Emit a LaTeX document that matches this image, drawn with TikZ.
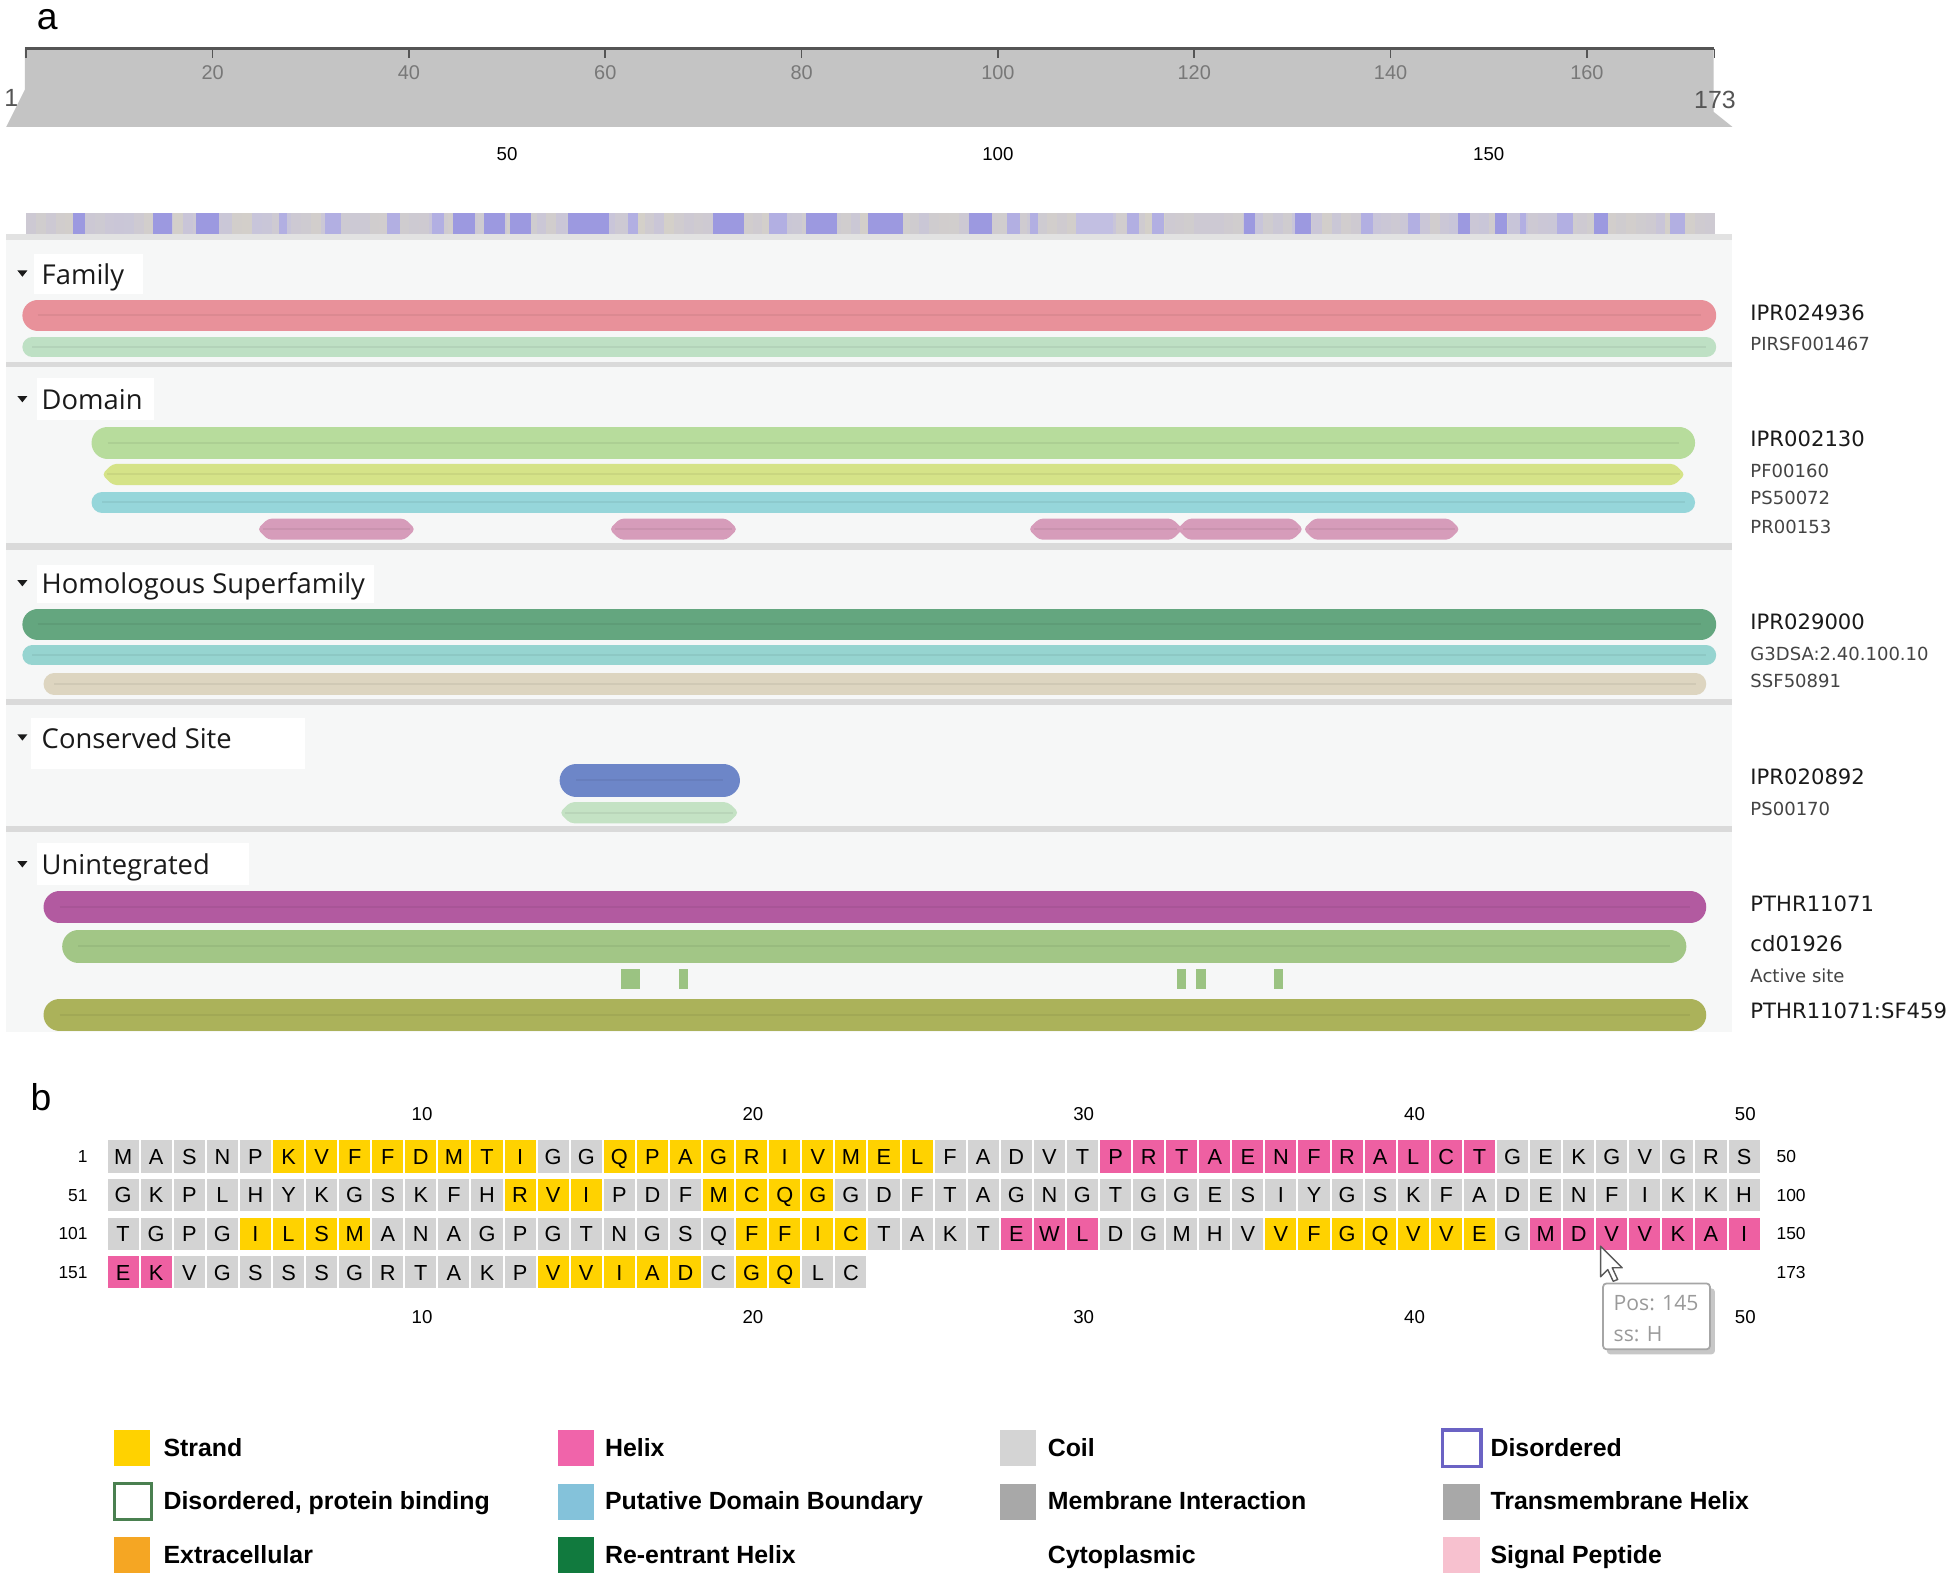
\documentclass[tikz,border=0pt]{standalone}
\usepackage{fontspec}
\setmainfont{Liberation Sans}
\newfontfamily\osans{Open Sans}
\newfontfamily\dvsans{DejaVu Sans}
\newcommand\fsz[1]{\fontsize{\fpeval{#1*0.35566}pt}{\fpeval{#1*0.43}pt}\selectfont}
\definecolor{rulergray}{RGB}{196,196,196}
\definecolor{rulerline}{RGB}{85,85,85}
\definecolor{tickgray}{RGB}{120,120,120}
\definecolor{stripbeige}{RGB}{214,210,198}
\definecolor{striplav}{RGB}{194,191,226}
\definecolor{stripmed}{RGB}{178,175,226}
\definecolor{stripblue}{RGB}{156,153,224}
\definecolor{bandgray}{RGB}{226,226,226}
\definecolor{panelbg}{RGB}{246,247,247}
\definecolor{sepgray}{RGB}{218,218,218}
\definecolor{famred}{RGB}{232,145,154}
\definecolor{famgreen}{RGB}{190,224,196}
\definecolor{domgreen}{RGB}{183,220,156}
\definecolor{domyg}{RGB}{213,227,136}
\definecolor{domcyan}{RGB}{150,214,218}
\definecolor{prpink}{RGB}{214,156,186}
\definecolor{hsgreen}{RGB}{100,166,127}
\definecolor{hscyan}{RGB}{150,212,208}
\definecolor{hsbeige}{RGB}{221,213,192}
\definecolor{csblue}{RGB}{109,134,200}
\definecolor{csgreen}{RGB}{196,226,196}
\definecolor{unmag}{RGB}{178,90,160}
\definecolor{ungreen}{RGB}{162,198,134}
\definecolor{unolive}{RGB}{171,178,90}
\definecolor{activegreen}{RGB}{155,195,130}
\definecolor{cellg}{RGB}{211,211,211}
\definecolor{celly}{RGB}{255,210,0}
\definecolor{cellp}{RGB}{238,96,162}
\definecolor{legpink}{RGB}{240,100,170}
\definecolor{legcoil}{RGB}{212,212,212}
\definecolor{legdis}{RGB}{107,99,196}
\definecolor{legdpb}{RGB}{74,128,80}
\definecolor{legpdb}{RGB}{132,194,218}
\definecolor{leggray}{RGB}{168,168,168}
\definecolor{legorange}{RGB}{245,166,35}
\definecolor{legreent}{RGB}{17,122,62}
\definecolor{legsig}{RGB}{247,193,207}
\definecolor{labdark}{RGB}{26,26,26}
\definecolor{labsoft}{RGB}{68,68,68}
\definecolor{tipgray}{RGB}{154,154,154}
\newcommand\capb[5]{%
  \draw[#5, line width={#4*0.125mm}, line cap=round] ({#1+#4/2},#3) -- ({#2-#4/2},#3);
  \draw[#5!75!black, opacity=0.22, line width=0.6pt] ({#1+#4/2},#3) -- ({#2-#4/2},#3);}
\newcommand\hexb[5]{%
  \fill[#5, rounded corners=0.4mm] (#1,#3) -- ({#1+#4/2},{#3-#4/2}) -- ({#2-#4/2},{#3-#4/2}) -- (#2,#3) -- ({#2-#4/2},{#3+#4/2}) -- ({#1+#4/2},{#3+#4/2}) -- cycle;
  \draw[#5!75!black, opacity=0.22, line width=0.6pt] ({#1+#4/4},#3) -- ({#2-#4/4},#3);}
\begin{document}
\begin{tikzpicture}[x=0.125mm,y=-0.125mm,
  tick/.style={font=\fsz{16}, text=tickgray, anchor=base, inner sep=0pt},
  scl/.style={font=\fsz{15}, text=black, anchor=base, inner sep=0pt},
  seclab/.style={font=\osans\fsz{22}, text=labdark, anchor=base west, inner sep=0pt},
  biglab/.style={font=\dvsans\fsz{17}, text=labdark, anchor=base west, inner sep=0pt},
  smalllab/.style={font=\dvsans\fsz{14.5}, text=labsoft, anchor=base west, inner sep=0pt},
  seq/.style={font=\fsz{17.5}, text=black, anchor=base, inner sep=0pt},
  rown/.style={font=\fsz{14}, text=black, inner sep=0pt},
  leg/.style={font=\bfseries\fsz{20}, text=black, anchor=base west, inner sep=0pt},
  tiptxt/.style={font=\osans\fsz{17}, text=tipgray, anchor=base west, inner sep=0pt},
  labbox/.style={fill=white},
  tri/.style={fill=labdark}]
\useasboundingbox (0,0) rectangle (1568,1279);
\fill[white] (0,0) rectangle (1568,1279);

% ---------- panel a ----------
\node[font=\fsz{30}, anchor=base west, inner sep=0pt] (lbla) at (29,24) {a};

% ruler
\fill[rulergray] (20,39) -- (1378,39) -- (1378,90) -- (1393,102) -- (5,102) -- (20,72) -- cycle;
\draw[rulerline, line width=0.6pt] (20,39) -- (1378,39);
\foreach \p in {1,20,40,60,80,100,120,140,160,173}
  \draw[rulerline, line width=0.5pt] ({21+(\p-1)*7.893},39) -- ++(0,8);
\foreach \p in {20,40,...,160}
  \node[tick] (tk\p) at ({21+(\p-1)*7.893},64) {\p};
\node[font=\fsz{20}, text=rulerline, anchor=base, inner sep=0pt] (rstart) at (9,86) {1};
\node[font=\fsz{20}, text=rulerline, anchor=base, inner sep=0pt] (rend) at (1379,87) {173};
\foreach \p in {50,100,150}
  \node[scl] (sc\p) at ({21+(\p-1)*7.893},129) {\p};

% colour strip
\pgfmathsetseed{11}
\foreach \p in {1,...,172}{
  \pgfmathtruncatemacro\rv{random(10,70)}
  \fill[striplav!\rv!stripbeige] ({21+(\p-1)*7.893},171) rectangle ({21+\p*7.893+0.4},188);
}
\foreach \a/\b/\c in {59/68/stripblue,123/138/stripblue,158/176/stripblue,224/231/stripmed,261/274/stripmed,
  311/322/stripmed,347/357/stripmed,364/382/stripblue,389/406/stripblue,410/427/stripblue,457/490/stripblue,
  505/513/stripmed,573/598/stripblue,618/633/stripmed,648/673/stripblue,698/726/stripblue,779/798/stripblue,
  810/820/stripmed,828/835/stripmed,865/895/striplav,906/916/stripmed,926/936/stripmed,1000/1009/stripblue,
  1041/1054/stripblue,1094/1104/stripmed,1132/1142/stripmed,1172/1182/stripblue,1202/1212/stripblue,
  1222/1227/stripmed,1252/1265/stripmed,1282/1293/stripblue,1343/1355/stripmed}
  \fill[\c] (\a,171) rectangle (\b,188);
\fill[bandgray] (5,188) rectangle (1393,193);

% panels
\fill[panelbg] (5,193) rectangle (1393,830);
\foreach \ya/\yb in {291/295,437/442,562/567,664/669}
  \fill[sepgray] (5,\ya) rectangle (1393,\yb);

% section labels
\fill[labbox] (27,204) rectangle (115,236);
\fill[labbox] (30,304) rectangle (124,338);
\fill[labbox] (30,454) rectangle (301,485);
\fill[labbox] (25,577) rectangle (245,618);
\fill[labbox] (30,678) rectangle (200,712);
\foreach \yc in {220,321,469,593,695}
  \fill[tri] (14,{\yc-2.5}) -- (22,{\yc-2.5}) -- (18,{\yc+2.5}) -- cycle;
\node[seclab] (sfam) at (33,228.5) {Family};
\node[seclab] (sdom) at (33,329.5) {Domain};
\node[seclab] (shom) at (33,477.5) {Homologous Superfamily};
\node[seclab] (scon) at (33,601.5) {Conserved Site};
\node[seclab] (suni) at (33,703.5) {Unintegrated};

% bars
\capb{18}{1380}{253.5}{25}{famred}
\capb{18}{1380}{279}{16}{famgreen}
\capb{73.6}{1363}{356}{26}{domgreen}
\hexb{82}{1355}{381.5}{17}{domyg}
\capb{73.6}{1363}{404}{17}{domcyan}
\hexb{207}{334}{425.5}{17}{prpink}
\hexb{490}{593}{425.5}{17}{prpink}
\hexb{827}{951}{425.5}{17}{prpink}
\hexb{946.6}{1048}{425.5}{17}{prpink}
\hexb{1048}{1174}{425.5}{17}{prpink}
\capb{18}{1380}{502}{25}{hsgreen}
\capb{18}{1380}{527}{16}{hscyan}
\capb{35}{1372}{550}{17}{hsbeige}
\capb{450}{595}{627.5}{27}{csblue}
\hexb{450}{594}{653.5}{17}{csgreen}
\capb{35}{1372}{729.5}{26}{unmag}
\capb{50}{1356}{761}{26}{ungreen}
\foreach \a/\b in {499/515,546/553,946.5/953.5,962/970,1024.5/1032}
  \fill[activegreen] (\a,779) rectangle (\b,795);
\capb{35}{1372}{816}{26}{unolive}

% right labels
\node[biglab] (l1) at (1407,258) {IPR024936};
\node[smalllab] (l2) at (1407,282) {PIRSF001467};
\node[biglab] (l3) at (1407,359) {IPR002130};
\node[smalllab] (l4) at (1407,384) {PF00160};
\node[smalllab] (l5) at (1407,406) {PS50072};
\node[smalllab] (l6) at (1407,429) {PR00153};
\node[biglab] (l7) at (1407,506) {IPR029000};
\node[smalllab] (l8) at (1407,531) {G3DSA:2.40.100.10};
\node[smalllab] (l9) at (1407,553) {SSF50891};
\node[biglab] (l10) at (1407,631) {IPR020892};
\node[smalllab] (l11) at (1407,656) {PS00170};
\node[biglab] (l12) at (1407,733) {PTHR11071};
\node[biglab] (l13) at (1407,765) {cd01926};
\node[smalllab] (l14) at (1407,790) {Active site};
\node[biglab] (l15) at (1407,819) {PTHR11071:SF459};

% ---------- panel b ----------
\node[font=\fsz{30}, anchor=base west, inner sep=0pt] (lblb) at (24,893) {b};
\foreach \n in {10,20,30,40,50}{
  \node[scl] (top\n) at ({100+(\n-1)*26.6},901) {\n};
  \node[scl] (bot\n) at ({100+(\n-1)*26.6},1064) {\n};
}
\foreach \L/\C [count=\i from 0] in {M/g,A/g,S/g,N/g,P/g,K/y,V/y,F/y,F/y,D/y,M/y,T/y,I/y,G/g,G/g,Q/y,P/y,A/y,G/y,R/y,I/y,V/y,M/y,E/y,L/y,F/g,A/g,D/g,V/g,T/g,P/p,R/p,T/p,A/p,E/p,N/p,F/p,R/p,A/p,L/p,C/p,T/p,G/g,E/g,K/g,G/g,V/g,G/g,R/g,S/g}{
  \fill[cell\C] ({99+\i*26.6-12.5},917) rectangle ({99+\i*26.6+12.5},943);
  \node[seq] (ra\i) at ({99+\i*26.6},936.3) {\L};
}
\foreach \L/\C [count=\i from 0] in {G/g,K/g,P/g,L/g,H/g,Y/g,K/g,G/g,S/g,K/g,F/g,H/g,R/y,V/y,I/y,P/g,D/g,F/g,M/y,C/y,Q/y,G/y,G/g,D/g,F/g,T/g,A/g,G/g,N/g,G/g,T/g,G/g,G/g,E/g,S/g,I/g,Y/g,G/g,S/g,K/g,F/g,A/g,D/g,E/g,N/g,F/g,I/g,K/g,K/g,H/g}{
  \fill[cell\C] ({99+\i*26.6-12.5},948) rectangle ({99+\i*26.6+12.5},974);
  \node[seq] (rb\i) at ({99+\i*26.6},967.3) {\L};
}
\foreach \L/\C [count=\i from 0] in {T/g,G/g,P/g,G/g,I/y,L/y,S/y,M/y,A/g,N/g,A/g,G/g,P/g,G/g,T/g,N/g,G/g,S/g,Q/g,F/y,F/y,I/y,C/y,T/g,A/g,K/g,T/g,E/p,W/p,L/p,D/g,G/g,M/g,H/g,V/g,V/y,F/y,G/y,Q/y,V/y,V/y,E/y,G/g,M/p,D/p,V/p,V/p,K/p,A/p,I/p}{
  \fill[cell\C] ({99+\i*26.6-12.5},979) rectangle ({99+\i*26.6+12.5},1005);
  \node[seq] (rc\i) at ({99+\i*26.6},998.3) {\L};
}
\foreach \L/\C [count=\i from 0] in {E/p,K/p,V/g,G/g,S/g,S/g,S/g,G/g,R/g,T/g,A/g,K/g,P/g,V/y,V/y,I/y,A/y,D/y,C/g,G/y,Q/y,L/g,C/g}{
  \fill[cell\C] ({99+\i*26.6-12.5},1010) rectangle ({99+\i*26.6+12.5},1036);
  \node[seq] (rd\i) at ({99+\i*26.6},1029.3) {\L};
}
\node[rown, anchor=base east] (n1) at (71,935) {1};
\node[rown, anchor=base east] (n51) at (71,966) {51};
\node[rown, anchor=base east] (n101) at (71,997) {101};
\node[rown, anchor=base east] (n151) at (71,1028) {151};
\node[rown, anchor=base west] (m50) at (1428,935) {50};
\node[rown, anchor=base west] (m100) at (1428,966) {100};
\node[rown, anchor=base west] (m150) at (1428,997) {150};
\node[rown, anchor=base west] (m173) at (1428,1028) {173};

% tooltip and cursor
\fill[black!22, rounded corners=1pt] (1292,1036) rectangle (1379,1089);
\draw[fill=white, draw=black!35, line width=0.5pt, rounded corners=1pt] (1289,1032) rectangle (1375,1085);
\node[tiptxt] (tip1) at (1297,1054) {Pos: 145};
\node[tiptxt] (tip2) at (1297,1079) {ss: H};
\draw[fill=white, draw=black!65, line width=0.4pt, line join=round, shift={(1287,1002)}, scale=1.45]
  (0,0) -- (0,17) -- (4,13) -- (7,19.5) -- (9.5,18.5) -- (6.5,12) -- (12,12) -- cycle;

% legend
\fill[celly] (92,1150) rectangle (121,1179);
\node[leg] (g1) at (131,1171) {Strand};
\fill[legpink] (449,1150) rectangle (478,1179);
\node[leg] (g2) at (486,1171) {Helix};
\fill[legcoil] (804,1150) rectangle (833,1179);
\node[leg] (g3) at (842,1171) {Coil};
\draw[legdis, fill=white, line width=1pt] (1160,1150) rectangle (1191,1179);
\node[leg] (g4) at (1198,1171) {Disordered};
\draw[legdpb, fill=white, line width=1pt] (92,1193) rectangle (122,1222);
\node[leg] (g5) at (131,1214) {Disordered, protein binding};
\fill[legpdb] (449,1193) rectangle (478,1222);
\node[leg] (g6) at (486,1214) {Putative Domain Boundary};
\fill[leggray] (804,1193) rectangle (833,1222);
\node[leg] (g7) at (842,1214) {Membrane Interaction};
\fill[leggray] (1160,1193) rectangle (1190,1222);
\node[leg] (g8) at (1198,1214) {Transmembrane Helix};
\fill[legorange] (92,1236) rectangle (121,1265);
\node[leg] (g9) at (131,1257) {Extracellular};
\fill[legreent] (449,1236) rectangle (478,1265);
\node[leg] (g10) at (486,1257) {Re-entrant Helix};
\node[leg] (g11) at (842,1257) {Cytoplasmic};
\fill[legsig] (1160,1236) rectangle (1190,1265);
\node[leg] (g12) at (1198,1257) {Signal Peptide};
\end{tikzpicture}
\end{document}
